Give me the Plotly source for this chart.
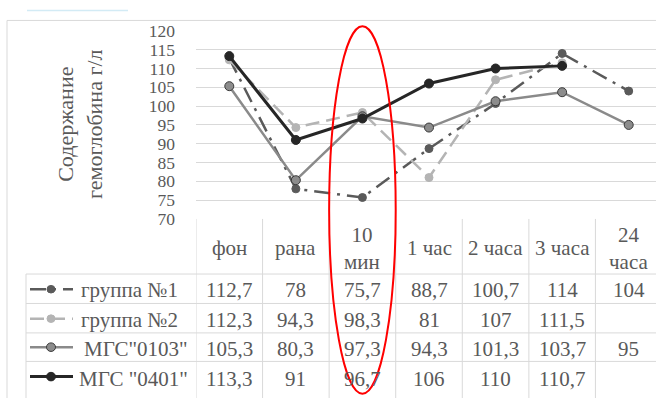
import plotly.graph_objects as go

categories = ["фон", "рана", "10 мин", "1 час", "2 часа", "3 часа", "24 часа"]
header_labels = ["фон", "рана", "10<br>мин", "1 час", "2 часа", "3 часа", "24<br>часа"]
series_names = ["группа №1", "группа №2", 'МГС"0103"', 'МГС "0401"']
group1 = [112.7, 78, 75.7, 88.7, 100.7, 114, 104]
group2 = [112.3, 94.3, 98.3, 81, 107, 111.5, None]
mgs0103 = [105.3, 80.3, 97.3, 94.3, 101.3, 103.7, 95]
mgs0401 = [113.3, 91, 96.7, 106, 110, 110.7, None]
y_ticks = [70, 75, 80, 85, 90, 95, 100, 105, 110, 115, 120]
y_title = "Содержание<br>гемоглобина г/л"

series_values = [group1, group2, mgs0103, mgs0401]

W, H = 656, 398
FONT = "'Liberation Serif', 'Times New Roman', serif"
TXT = "#595959"
GRID = "#d9d9d9"


def px(x):
    return x / W


def py(y):
    return 1 - y / H


styles = [
    dict(color="#5a5a5a", width=2.5, dash="16px,7px,3px,7px", msize=8, mcolor="#5a5a5a", mline="#5a5a5a"),
    dict(color="#b4b4b4", width=2.5, dash="14px,7px", msize=8, mcolor="#b4b4b4", mline="#b4b4b4"),
    dict(color="#8a8a8a", width=2.5, dash="solid", msize=9, mcolor="#8c8c8c", mline="#3a3a3a"),
    dict(color="#262626", width=3, dash="solid", msize=9, mcolor="#262626", mline="#262626"),
]

fig = go.Figure()
for name, vals, st in zip(series_names, series_values, styles):
    fig.add_trace(go.Scatter(
        x=categories, y=vals, name=name, mode="lines+markers",
        line=dict(color=st["color"], width=st["width"], dash=st["dash"]),
        marker=dict(size=st["msize"], color=st["mcolor"], line=dict(color=st["mline"], width=1)),
        showlegend=False, cliponaxis=False,
    ))

cat_w = (662 - 196) / 7.0
fig.update_layout(
    width=W, height=H, margin=dict(l=0, r=0, t=0, b=0),
    paper_bgcolor="white", plot_bgcolor="white",
    font=dict(family=FONT),
    xaxis=dict(type="category", domain=[px(196), 1], range=[-0.5, -0.5 + (W - 196) / cat_w],
               showgrid=False, showticklabels=False, zeroline=False, showline=False,
               categoryorder="array", categoryarray=categories),
    yaxis=dict(domain=[py(220), py(22)], range=[70, 120], tickvals=y_ticks,
               showgrid=True, gridcolor=GRID, gridwidth=1, zeroline=False, showline=False,
               tickfont=dict(family=FONT, size=17.5, color=TXT), ticklabelstandoff=20),
)

shapes = []
# chart border
shapes.append(dict(type="rect", xref="paper", yref="paper", x0=px(7), x1=1.2, y0=-0.2, y1=py(11),
                   line=dict(color=GRID, width=1), fillcolor="rgba(0,0,0,0)", layer="below"))
# fragment at top
shapes.append(dict(type="line", xref="paper", yref="paper", x0=px(27), x1=px(128), y0=py(0.5), y1=py(0.5),
                   line=dict(color="#d3ebf5", width=1.5)))

row_lines = [278, 309, 340, 370]
row_centers = [295, 326, 357, 388]
for yl in row_lines:
    shapes.append(dict(type="line", xref="paper", yref="paper", x0=px(26), x1=1, y0=py(yl), y1=py(yl),
                       line=dict(color=GRID, width=1)))
for i in range(len(categories) + 1):
    shapes.append(dict(type="line", xref="x", yref="paper", x0=i - 0.5, x1=i - 0.5, y0=py(220), y1=-0.05,
                       line=dict(color=GRID, width=1)))
shapes.append(dict(type="line", xref="paper", yref="paper", x0=px(26), x1=px(26), y0=py(278), y1=-0.05,
                   line=dict(color=GRID, width=1)))

# legend keys
key_centers = [294, 325, 355, 386]
for st, yc in zip(styles, key_centers):
    shapes.append(dict(type="line", xref="paper", yref="paper", x0=px(30), x1=px(73), y0=py(yc), y1=py(yc),
                       line=dict(color=st["color"], width=st["width"], dash=st["dash"])))
    r = st["msize"] / 2
    shapes.append(dict(type="circle", xref="paper", yref="paper", x0=px(51 - r), x1=px(51 + r),
                       y0=py(yc + r), y1=py(yc - r), fillcolor=st["mcolor"],
                       line=dict(color=st["mline"], width=1)))

# red ellipse around "10 мин"
shapes.append(dict(type="circle", xref="x", yref="paper", x0=1.5, x1=2.5, y0=py(404), y1=py(17),
                   line=dict(color="#ff0000", width=2), fillcolor="rgba(0,0,0,0)"))

annotations = []
annotations.append(dict(text=y_title, xref="paper", yref="paper", x=px(80), y=py(121), textangle=-90,
                        showarrow=False, font=dict(family=FONT, size=22, color=TXT),
                        xanchor="center", yanchor="middle"))
for j, lab in enumerate(header_labels):
    annotations.append(dict(text=lab, xref="x", yref="paper", x=j, y=py(251), showarrow=False,
                            font=dict(family=FONT, size=21, color=TXT), xanchor="center", yanchor="middle"))


def fmt(v):
    if v is None:
        return ""
    if float(v).is_integer():
        return str(int(v))
    return ("%.1f" % v).replace(".", ",")


key_text_x = [79, 79, 82, 77]
for name, vals, yc, kx in zip(series_names, series_values, row_centers, key_text_x):
    annotations.append(dict(text=name, xref="paper", yref="paper", x=px(kx), y=py(yc), showarrow=False,
                            font=dict(family=FONT, size=21, color=TXT), xanchor="left", yanchor="middle"))
    for j, v in enumerate(vals):
        if v is None:
            continue
        annotations.append(dict(text=fmt(v), xref="x", yref="paper", x=j, y=py(yc), showarrow=False,
                                font=dict(family=FONT, size=21, color=TXT), xanchor="center", yanchor="middle"))

fig.update_layout(shapes=shapes, annotations=annotations)
fig.write_html("out.html")
